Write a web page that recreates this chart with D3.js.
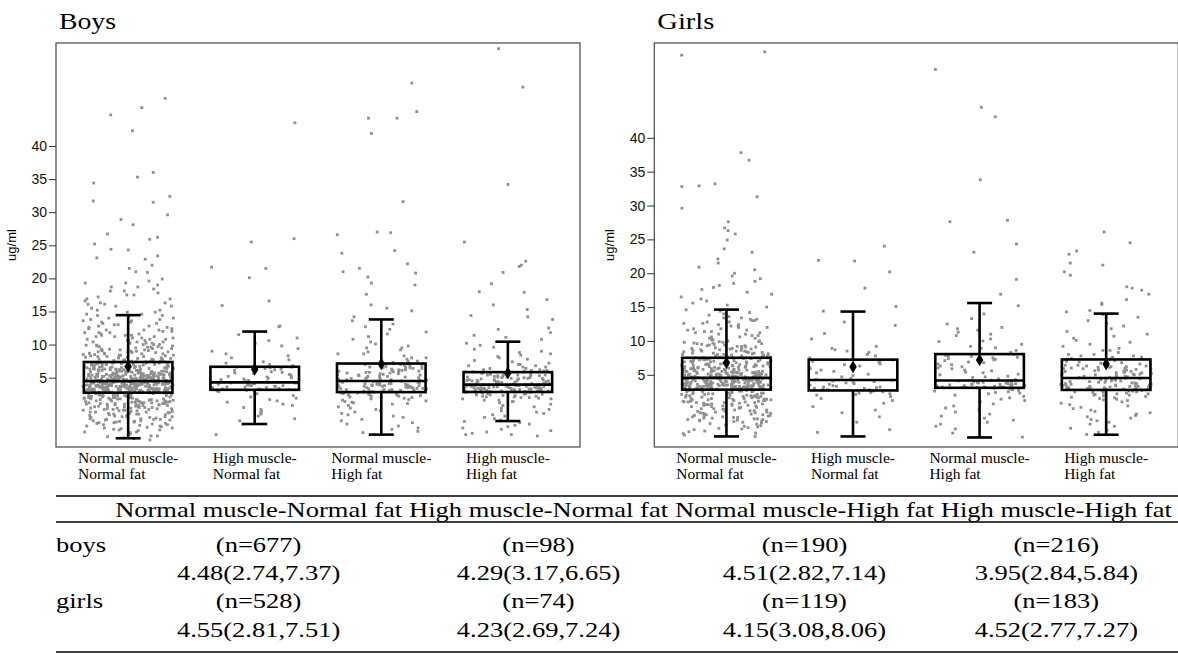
<!DOCTYPE html>
<html>
<head>
<meta charset="utf-8">
<script src="https://cdn.jsdelivr.net/npm/d3@7"></script>
<style>
  body { margin: 0; background: #fff; }
  .serif { font-family: "Liberation Serif", "Times New Roman", Times, serif; }
  .sans { font-family: "Liberation Sans", Arial, Helvetica, sans-serif; }
</style>
</head>
<body>
<svg id="chart" width="1178" height="655"></svg>
<script>
// categories and summary table
var groups = ["Normal muscle-Normal fat", "High muscle-Normal fat", "Normal muscle-High fat", "High muscle-High fat"];
var axisLines = [["Normal muscle-", "Normal fat"], ["High muscle-", "Normal fat"], ["Normal muscle-", "High fat"], ["High muscle-", "High fat"]];
var yTicks = [5, 10, 15, 20, 25, 30, 35, 40];

var boysN = [677, 98, 190, 216];
var boysMedian = [4.48, 4.29, 4.51, 3.95];
var boysQ1 = [2.74, 3.17, 2.82, 2.84];
var boysQ3 = [7.37, 6.65, 7.14, 5.84];
var boysLow = [-4.15, -2.0, -3.6, -1.55];
var boysHigh = [14.45, 11.97, 13.8, 10.44];
var boysMean = [6.68, 6.28, 7.09, 5.72];

var girlsN = [528, 74, 119, 183];
var girlsMedian = [4.55, 4.23, 4.15, 4.52];
var girlsQ1 = [2.81, 2.69, 3.08, 2.77];
var girlsQ3 = [7.51, 7.24, 8.06, 7.27];
var girlsLow = [-4.1, -4.1, -4.25, -3.85];
var girlsHigh = [14.63, 14.34, 15.6, 14.04];
var girlsMean = [6.77, 6.18, 7.2, 6.58];

var boysNMNF = [[-4.4,1],[-4.2,1],[-4.1,1],[-3.9,1],[-3.8,2],[-3.6,1],[-3.5,1],[-3.3,1],[-3.2,2],[-3.0,1],[-2.9,2],[-2.8,1],[-2.7,1],[-2.6,2],[-2.5,1],[-2.4,1],[-2.3,2],[-2.2,1],[-2.1,2],
  [-2.0,1],[-1.9,2],[-1.8,2],[-1.7,2],[-1.6,2],[-1.5,2],[-1.4,2],[-1.3,3],[-1.2,2],[-1.1,2],[-1.0,2],[-0.9,3],[-0.8,2],[-0.7,2],[-0.6,2],[-0.5,3],[-0.4,2],[-0.3,2],[-0.2,3],[-0.1,2],[0.0,2],
  [0.1,3],[0.2,3],[0.3,3],[0.4,3],[0.5,3],[0.6,3],[0.7,3],[0.8,3],[0.9,3],[1.0,4],[1.1,4],[1.2,4],[1.3,4],[1.4,4],[1.5,4],[1.6,4],[1.7,4],[1.8,4],[1.9,4],[2.0,4],[2.1,4],[2.2,4],[2.3,4],[2.4,4],[2.5,4],[2.6,4],[2.7,5],
  [2.8,9],[2.9,9],[3.0,10],[3.1,9],[3.2,10],[3.3,9],[3.4,10],[3.5,9],[3.6,10],[3.7,9],[3.8,10],[3.9,9],[4.0,9],[4.1,10],[4.2,9],[4.3,9],[4.4,10],[4.5,9],
  [4.6,8],[4.7,9],[4.8,8],[4.9,8],[5.0,9],[5.1,8],[5.2,8],[5.3,8],[5.4,8],[5.5,8],[5.6,6],[5.7,5],[5.8,5],[5.9,5],[6.0,6],[6.1,5],[6.2,5],[6.3,5],[6.4,5],[6.5,5],[6.6,4],[6.7,4],[6.8,4],[6.9,4],[7.0,4],[7.1,4],[7.2,4],[7.3,4],[7.4,4],
  [7.5,3],[7.6,3],[7.7,3],[7.8,2],[7.9,3],[8.0,3],[8.1,2],[8.2,3],[8.3,2],[8.4,3],[8.5,2],[8.6,3],[8.7,2],[8.8,2],[8.9,3],[9.0,2],[9.1,2],[9.2,3],[9.3,2],[9.4,2],[9.5,2],[9.6,2],[9.7,2],[9.8,2],[9.9,2],
  [10.0,3],[10.2,3],[10.4,3],[10.6,3],[10.8,3],[11.0,3],[11.2,3],[11.4,3],[11.6,2],[11.8,3],[12.0,2],[12.2,3],[12.4,2],[12.6,2],[12.8,2],[13.0,2],[13.2,2],[13.4,2],[13.6,2],[13.8,2],[14.0,2],[14.2,1],[14.4,2],
  [14.6,2],[14.9,2],[15.2,2],[15.5,1],[15.8,2],[16.1,2],[16.3,2],[16.6,1],[16.9,2],[17.2,1],[17.5,2],[17.8,1],[18.1,2],[18.4,1],[18.7,2],[19.0,1],[19.3,2],[19.6,1],[19.9,1],
  [20.9,1],[21.0,1],[21.5,1],[22.0,1],[22.9,1],[23.1,1],[23.4,1],[24.3,1],[24.4,1],[25.2,1],[25.9,1],[26.2,1],[26.7,1],[28.1,1],[28.9,1],[29.6,1],
  [31.5,1],[31.7,1],[32.4,1],[34.4,1],[35.3,1],[36.0,1],[42.3,1],[44.7,1],[45.8,1],[47.2,1]];
var boysHMNF = [[-3.6,1],[-2.0,1],[-1.5,1],[-1.2,1],[-0.8,1],[-0.5,1],[-0.3,1],[0.0,1],[0.2,1],[0.5,1],[0.8,1],[1.0,1],[1.3,1],[1.5,1],[1.7,1],[1.9,1],[2.1,1],[2.3,1],[2.5,1],[2.6,1],[2.8,1],[2.9,1],[3.0,1],[3.1,1],
  [3.2,2],[3.3,2],[3.4,2],[3.5,2],[3.6,2],[3.7,2],[3.8,2],[3.9,2],[4.0,2],[4.1,2],[4.2,3],[4.3,2],
  [4.4,1],[4.5,1],[4.6,1],[4.7,1],[4.8,1],[4.9,1],[5.0,1],[5.1,1],[5.2,1],[5.3,1],[5.4,1],[5.5,1],[5.6,1],[5.7,1],[5.8,1],[5.9,1],[6.0,1],[6.1,1],[6.2,1],[6.3,1],[6.4,1],[6.5,2],[6.6,2],
  [6.8,1],[7.0,1],[7.2,1],[7.4,1],[7.7,1],[8.0,1],[8.3,1],[8.6,1],[9.0,1],[9.4,1],[9.8,1],[10.2,1],[10.6,1],[11.0,1],[11.5,1],[12.7,1],[12.8,1],[15.9,1],[16.6,1],[20.1,1],[21.5,1],[21.7,1],[25.5,1],[26.0,1],[43.5,1]];
var boysNMHF = [[-3.6,1],[-3.3,1],[-3.1,1],[-2.8,1],[-2.6,1],[-2.3,1],[-2.0,1],[-1.8,1],[-1.5,1],[-1.3,1],[-1.0,1],[-0.8,1],[-0.6,1],[-0.4,1],[-0.2,1],[0.0,1],[0.2,1],[0.4,1],[0.6,1],[0.8,1],
  [1.0,1],[1.1,1],[1.2,1],[1.3,1],[1.4,1],[1.5,1],[1.6,1],[1.7,1],[1.8,1],[1.9,1],[2.0,2],[2.1,1],[2.2,2],[2.3,1],[2.4,2],[2.5,2],[2.6,2],[2.7,2],[2.8,2],
  [2.9,3],[3.0,3],[3.1,3],[3.2,3],[3.3,3],[3.4,3],[3.5,3],[3.6,3],[3.7,3],[3.8,3],[3.9,3],[4.0,3],[4.1,3],[4.2,3],[4.3,2],[4.4,2],[4.5,2],
  [4.6,2],[4.7,2],[4.8,2],[4.9,2],[5.0,2],[5.1,2],[5.2,2],[5.3,2],[5.4,2],[5.5,2],[5.6,2],[5.7,2],[5.8,2],[5.9,2],[6.0,2],[6.1,2],[6.2,2],[6.3,2],[6.4,2],[6.5,2],[6.6,2],[6.7,1],[6.8,2],[6.9,1],[7.0,2],[7.1,2],
  [7.3,1],[7.5,2],[7.8,1],[8.0,2],[8.3,1],[8.6,2],[8.9,1],[9.2,1],[9.5,2],[9.8,1],[10.1,1],[10.4,1],[10.8,1],[11.2,1],[11.6,1],[11.9,1],[12.3,1],[12.7,1],[13.1,1],[13.6,1],
  [14.2,1],[15.1,1],[15.5,1],[16.0,1],[17.6,1],[19.0,1],[19.3,1],[20.2,1],[20.8,1],[21.0,1],[21.5,1],[22.2,1],[23.8,1],[24.2,1],[26.6,1],[26.9,1],[27.0,1],[31.6,1],[41.9,1],[44.2,2],[45.2,1],[49.5,1]];
var boysHMHF = [[-3.8,1],[-3.6,2],[-3.4,1],[-3.2,1],[-3.0,1],[-2.8,1],[-2.6,1],[-2.4,1],[-2.2,1],[-2.0,1],[-1.8,1],[-1.6,1],[-1.4,1],[-1.2,1],[-1.0,1],[-0.8,1],[-0.6,1],[-0.4,1],[-0.2,1],[0.0,1],[0.2,1],[0.4,1],[0.6,1],[0.8,1],[1.0,1],[1.2,1],
  [1.4,2],[1.6,2],[1.8,2],[1.9,1],[2.0,2],[2.1,2],[2.2,2],[2.3,2],[2.4,2],[2.5,2],[2.6,2],[2.7,2],[2.8,2],
  [2.9,5],[3.0,5],[3.1,5],[3.2,5],[3.3,5],[3.4,5],[3.5,5],[3.6,5],[3.7,5],[3.8,5],[3.9,4],
  [4.0,3],[4.1,3],[4.2,3],[4.3,3],[4.4,3],[4.5,3],[4.6,3],[4.7,3],[4.8,3],[4.9,3],[5.0,3],[5.1,3],[5.2,3],[5.3,3],[5.4,3],[5.5,3],[5.6,2],[5.7,2],[5.8,2],
  [5.9,2],[6.0,2],[6.1,2],[6.2,2],[6.4,2],[6.6,2],[6.8,2],[7.0,2],[7.2,1],[7.4,1],[7.6,1],[7.8,1],[8.0,1],[8.2,1],[8.4,1],[8.6,1],[8.8,1],[9.0,1],[9.3,1],[9.6,1],[9.9,1],[10.2,1],
  [10.8,1],[11.1,1],[11.4,1],[11.8,1],[12.3,1],[12.5,1],[13.8,1],[14.2,1],[14.4,1],[15.3,1],[16.0,1],[16.8,1],[17.9,1],[18.0,1],[19.2,1],[20.9,1],[21.8,1],[22.0,1],[22.6,1],[25.5,1],[34.2,1],[48.9,1],[54.7,1]];

var girlsNMNF = [[-4.1,1],[-3.9,1],[-3.7,1],[-3.6,1],[-3.4,1],[-3.3,1],[-3.1,1],[-3.0,1],[-2.9,1],[-2.8,1],[-2.7,1],[-2.6,1],[-2.5,1],[-2.4,1],[-2.3,1],[-2.2,1],[-2.1,1],[-2.0,1],
  [-1.9,2],[-1.8,2],[-1.7,2],[-1.6,2],[-1.5,2],[-1.4,2],[-1.3,2],[-1.2,2],[-1.1,2],[-1.0,2],[-0.9,2],[-0.8,2],[-0.7,2],[-0.6,2],[-0.5,2],[-0.4,2],[-0.3,2],[-0.2,2],[-0.1,2],[0.0,2],
  [0.1,2],[0.2,2],[0.3,2],[0.4,2],[0.5,3],[0.6,2],[0.7,3],[0.8,2],[0.9,3],[1.0,3],[1.1,3],[1.2,3],[1.3,3],[1.4,3],[1.5,3],[1.6,3],[1.7,3],[1.8,3],[1.9,3],[2.0,3],[2.1,3],[2.2,3],[2.3,3],[2.4,3],[2.5,3],[2.6,3],[2.7,3],[2.8,3],
  [2.9,8],[3.0,8],[3.1,8],[3.2,8],[3.3,8],[3.4,8],[3.5,8],[3.6,8],[3.7,8],[3.8,8],[3.9,8],[4.0,8],[4.1,8],[4.2,8],[4.3,8],[4.4,7],[4.5,7],
  [4.6,6],[4.7,6],[4.8,6],[4.9,6],[5.0,6],[5.1,6],[5.2,6],[5.3,6],[5.4,6],[5.5,6],[5.6,4],[5.7,4],[5.8,4],[5.9,4],[6.0,4],[6.1,4],[6.2,4],[6.3,4],[6.4,4],[6.5,4],[6.6,3],[6.7,3],[6.8,3],[6.9,3],[7.0,3],[7.1,3],[7.2,3],[7.3,3],[7.4,3],[7.5,3],
  [7.6,3],[7.7,2],[7.8,3],[7.9,2],[8.0,3],[8.1,2],[8.2,3],[8.3,2],[8.4,2],[8.5,3],[8.6,2],[8.7,2],[8.8,2],[8.9,2],[9.0,2],[9.1,2],[9.2,2],[9.3,2],[9.4,2],[9.5,2],[9.6,2],[9.7,2],[9.8,2],[9.9,2],[10.0,2],
  [10.2,2],[10.4,2],[10.6,2],[10.8,2],[11.0,2],[11.2,2],[11.4,2],[11.6,2],[11.8,2],[12.0,2],[12.2,2],[12.4,2],[12.6,2],[12.8,2],[13.0,2],[13.2,2],[13.4,2],[13.6,1],[13.8,1],[14.0,1],[14.2,1],[14.4,1],[14.6,1],
  [15.0,1],[15.3,1],[15.6,1],[15.9,1],[16.2,1],[16.5,1],[16.9,1],[17.2,1],[17.6,1],[17.9,1],[18.2,1],[18.5,1],[18.8,1],[19.2,1],[19.6,1],[20.0,1],[20.5,1],[20.9,1],[21.5,1],[22.1,1],[23.1,1],[23.6,1],[24.9,1],[25.8,1],[26.3,1],[26.7,1],[27.6,1],[29.6,1],
  [31.3,1],[32.8,1],[32.9,1],[33.2,1],[36.7,1],[37.8,1],[52.2,1],[52.7,1]];
var girlsHMNF = [[-3.5,1],[-3.1,1],[-2.0,1],[-1.2,1],[-0.6,1],[-0.2,1],[0.3,1],[0.8,1],[1.2,1],[1.5,1],[1.8,1],[2.0,1],[2.1,1],[2.2,1],[2.3,1],[2.4,1],[2.5,1],[2.6,1],
  [2.7,1],[2.8,2],[2.9,1],[3.0,2],[3.1,1],[3.2,2],[3.3,1],[3.4,1],[3.5,1],[3.6,1],[3.7,1],[3.8,1],[3.9,1],[4.0,1],[4.1,1],[4.2,1],
  [4.3,1],[4.5,1],[4.7,1],[4.9,1],[5.1,1],[5.3,1],[5.5,1],[5.7,1],[5.9,1],[6.1,1],[6.3,1],[6.5,1],[6.6,1],[6.8,1],[6.9,1],[7.0,1],[7.1,1],[7.2,1],
  [7.5,1],[7.8,1],[8.0,1],[8.3,1],[8.5,1],[8.7,1],[8.9,1],[9.2,1],[10.3,1],[11.1,1],[12.3,1],[12.8,1],[14.4,1],[15.1,1],[17.8,1],[20.2,1],[21.8,1],[21.9,1],[24.0,1]];
var girlsNMHF = [[-4.2,1],[-3.6,1],[-3.0,1],[-2.6,1],[-2.3,1],[-2.0,1],[-1.7,1],[-1.4,1],[-1.1,1],[-0.8,1],[-0.5,1],[-0.2,1],[0.1,1],[0.4,1],[0.7,1],[1.0,1],[1.2,1],[1.4,1],[1.6,1],[1.8,1],[2.0,1],[2.2,1],[2.3,1],[2.4,1],[2.5,1],[2.6,1],[2.7,1],[2.8,1],[2.9,1],[3.0,1],
  [3.1,3],[3.2,3],[3.3,3],[3.4,3],[3.5,3],[3.6,3],[3.7,3],[3.8,3],[3.9,2],[4.0,2],[4.1,2],
  [4.2,1],[4.3,1],[4.4,1],[4.6,1],[4.7,1],[4.8,1],[5.0,1],[5.1,1],[5.3,1],[5.4,1],[5.6,1],[5.7,1],[5.9,1],[6.0,1],[6.2,1],[6.3,1],[6.5,1],[6.6,1],[6.8,1],[6.9,1],[7.1,1],[7.2,1],[7.3,1],[7.4,1],[7.5,1],[7.6,1],[7.7,1],[7.8,1],[7.9,1],[8.0,1],
  [8.3,1],[8.6,1],[8.9,1],[9.0,1],[9.2,1],[9.5,1],[9.9,1],[10.0,1],[10.3,1],[10.8,1],[11.0,1],[11.3,1],[11.6,1],[11.8,1],[12.0,1],[12.5,1],[13.3,1],[14.0,1],[15.2,1],[16.9,1],[19.1,1],[23.1,1],[24.3,1],[27.6,1],[27.8,1],[33.8,1],[43.1,1],[44.5,1],[50.1,1]];
var girlsHMHF = [[-3.8,1],[-3.5,1],[-3.2,1],[-2.9,1],[-2.6,1],[-2.3,1],[-2.0,1],[-1.8,1],[-1.6,1],[-1.4,1],[-1.2,1],[-1.0,1],[-0.8,1],[-0.6,1],[-0.4,1],[-0.2,1],[0.0,1],[0.2,1],[0.4,1],[0.6,1],[0.8,1],[1.0,1],[1.2,1],[1.3,1],[1.4,1],[1.5,1],[1.6,1],[1.7,1],[1.8,1],[1.9,1],
  [2.0,2],[2.1,1],[2.2,2],[2.3,1],[2.4,2],[2.5,2],[2.6,2],[2.7,2],
  [2.8,3],[2.9,3],[3.0,3],[3.1,3],[3.2,3],[3.3,3],[3.4,3],[3.5,3],[3.6,3],[3.7,2],[3.8,2],[3.9,2],[4.0,2],[4.1,2],[4.2,2],[4.3,2],[4.4,2],[4.5,2],
  [4.6,2],[4.7,2],[4.8,2],[4.9,2],[5.0,2],[5.1,2],[5.2,2],[5.3,2],[5.4,2],[5.5,2],[5.6,2],[5.7,2],[5.8,2],[5.9,2],[6.0,2],[6.1,2],[6.2,2],[6.3,2],[6.4,2],[6.5,1],[6.6,1],[6.7,1],[6.8,1],[6.9,1],[7.0,1],[7.1,1],[7.2,1],
  [7.4,2],[7.6,2],[7.8,2],[8.0,2],[8.3,1],[8.6,2],[8.9,1],[9.2,1],[9.5,1],[9.8,1],[10.1,1],[10.4,1],[10.7,1],[11.0,1],[11.4,1],[11.8,1],[12.2,1],[12.6,1],[13.0,1],[13.5,1],[13.9,1],
  [14.3,1],[14.5,1],[15.4,1],[15.6,1],[16.1,1],[16.9,1],[17.5,1],[17.8,1],[18.0,1],[19.7,1],[20.2,1],[21.2,1],[21.5,1],[22.8,1],[23.3,1],[24.5,1],[26.1,1]];

var svg = d3.select("#chart");

// horizontal jitter offset in [-1, 1], a fixed hash of the point index
function jitter(k, i) {
  var s = Math.sin((k + 1) * 12.9898 + (i + 1) * 78.233) * 43758.5453;
  return (s - Math.floor(s)) * 2 - 1;
}

function drawPanel(p) {
  var g = svg.append("g");
  var x = d3.scalePoint().domain(groups).range([p.left, p.right]).padding(0.57);
  var y = d3.scaleLinear().domain(p.yDomain).range([p.bottom, p.top]);
  var boxW = x.step() * 0.70;
  var jw = boxW / 2 + 1;
  var capW = 25;

  // jittered observations
  groups.forEach(function(cat, i) {
    var pts = [];
    p.points[i].forEach(function(d) { for (var k = 0; k < d[1]; k++) pts.push(d[0]); });
    g.append("g").selectAll("rect")
      .data(pts)
      .join("rect")
      .attr("x", function(v, k) { return x(cat) + jitter(k, i + p.seed) * jw - 1.4; })
      .attr("y", function(v) { return y(v) - 1.4; })
      .attr("width", 2.8)
      .attr("height", 2.8)
      .attr("fill", "#8f8f8f");
  });

  // boxes and whiskers
  var b = g.selectAll(".box").data(groups).join("g").attr("class", "box");
  b.append("line")
    .attr("x1", function(d) { return x(d); }).attr("x2", function(d) { return x(d); })
    .attr("y1", function(d, i) { return y(p.q3[i]); }).attr("y2", function(d, i) { return y(p.high[i]); });
  b.append("line")
    .attr("x1", function(d) { return x(d); }).attr("x2", function(d) { return x(d); })
    .attr("y1", function(d, i) { return y(p.q1[i]); }).attr("y2", function(d, i) { return y(p.low[i]); });
  b.append("line")
    .attr("x1", function(d) { return x(d) - capW / 2; }).attr("x2", function(d) { return x(d) + capW / 2; })
    .attr("y1", function(d, i) { return y(p.high[i]); }).attr("y2", function(d, i) { return y(p.high[i]); });
  b.append("line")
    .attr("x1", function(d) { return x(d) - capW / 2; }).attr("x2", function(d) { return x(d) + capW / 2; })
    .attr("y1", function(d, i) { return y(p.low[i]); }).attr("y2", function(d, i) { return y(p.low[i]); });
  b.append("rect")
    .attr("x", function(d) { return x(d) - boxW / 2; })
    .attr("y", function(d, i) { return y(p.q3[i]); })
    .attr("width", boxW)
    .attr("height", function(d, i) { return y(p.q1[i]) - y(p.q3[i]); })
    .attr("fill", "none");
  b.append("line")
    .attr("x1", function(d) { return x(d) - boxW / 2; }).attr("x2", function(d) { return x(d) + boxW / 2; })
    .attr("y1", function(d, i) { return y(p.median[i]); }).attr("y2", function(d, i) { return y(p.median[i]); });
  b.selectAll("line, rect").attr("stroke", "#000").attr("stroke-width", 2.6);
  b.append("path")
    .attr("d", d3.symbol().type(d3.symbolDiamond).size(48))
    .attr("transform", function(d, i) { return "translate(" + x(d) + "," + y(p.mean[i]) + ")"; })
    .attr("fill", "#000");

  // frame
  g.append("rect")
    .attr("x", p.left).attr("y", p.top)
    .attr("width", p.right - p.left).attr("height", p.bottom - p.top)
    .attr("fill", "none").attr("stroke", "#555").attr("stroke-width", 1.3);

  // y axis
  var ax = g.append("g")
    .attr("transform", "translate(" + p.left + ",0)")
    .call(d3.axisLeft(y).tickValues(yTicks).tickSize(7).tickPadding(2));
  ax.select(".domain").remove();
  ax.attr("font-family", null).attr("font-size", null);
  ax.selectAll(".tick line").attr("stroke", "#333");
  ax.selectAll(".tick text").attr("class", "sans").style("font-size", "14px").attr("fill", "#111");

  g.append("text")
    .attr("class", "sans")
    .attr("transform", "translate(" + (p.left - 40) + "," + ((p.top + p.bottom) / 2) + ") rotate(-90)")
    .attr("text-anchor", "middle")
    .style("font-size", "13px")
    .text("ug/ml");

  // category labels, two left-aligned lines centred on the band
  groups.forEach(function(cat, i) {
    var t = g.append("text").attr("class", "serif").style("font-size", "15.5px");
    axisLines[i].forEach(function(line, j) {
      t.append("tspan").attr("y", p.bottom + 16 + j * 16).text(line);
    });
    var w = d3.max(t.selectAll("tspan").nodes(), function(n) { return n.getComputedTextLength(); });
    t.selectAll("tspan").attr("x", x(cat) - w / 2);
  });

  g.append("text")
    .attr("class", "serif")
    .attr("x", p.left + 3).attr("y", 29)
    .attr("textLength", 57).attr("lengthAdjust", "spacingAndGlyphs")
    .style("font-size", "24px")
    .text(p.title);
}

drawPanel({ title: "Boys", seed: 0, left: 56, right: 580, top: 43, bottom: 447, yDomain: [-5.47, 55.56],
  points: [boysNMNF, boysHMNF, boysNMHF, boysHMHF],
  q1: boysQ1, q3: boysQ3, median: boysMedian, low: boysLow, high: boysHigh, mean: boysMean });
drawPanel({ title: "Girls", seed: 5, left: 654.3, right: 1178.3, top: 43, bottom: 447, yDomain: [-5.66, 54.0],
  points: [girlsNMNF, girlsHMNF, girlsNMHF, girlsHMHF],
  q1: girlsQ1, q3: girlsQ3, median: girlsMedian, low: girlsLow, high: girlsHigh, mean: girlsMean });

// summary table below the panels
var tbl = svg.append("g");
var fs = 20, tLeft = 56, tRight = 1178, headStart = 115, headEnd = 1172;
var ruleY = [496, 522, 652];
var headY = 517, rowY = [552, 580, 608, 637];

var heads = tbl.selectAll(".head").data(groups).join("text")
  .attr("class", "head serif")
  .style("font-size", fs + "px")
  .attr("text-anchor", "middle")
  .text(function(d) { return d; });
var widths = heads.nodes().map(function(n) { return n.getComputedTextLength(); });
var gap = fs * 0.25;
var sx = (headEnd - headStart) / (d3.sum(widths) + gap * 3);
var colX = [], acc = headStart;
widths.forEach(function(w) { colX.push(acc + w * sx / 2); acc += (w + gap) * sx; });
heads.attr("transform", function(d, i) { return "translate(" + colX[i] + "," + headY + ") scale(" + sx + ",1)"; });

function cell(txt, cx, cy, anchor) {
  tbl.append("text")
    .attr("class", "serif")
    .attr("transform", "translate(" + cx + "," + cy + ") scale(" + sx + ",1)")
    .attr("text-anchor", anchor)
    .style("font-size", fs + "px")
    .text(txt);
}
var rows = [["boys", boysN, boysMedian, boysQ1, boysQ3], ["girls", girlsN, girlsMedian, girlsQ1, girlsQ3]];
rows.forEach(function(r, ri) {
  cell(r[0], tLeft, rowY[ri * 2], "start");
  groups.forEach(function(cat, i) {
    cell("(n=" + r[1][i] + ")", colX[i], rowY[ri * 2], "middle");
    cell(r[2][i].toFixed(2) + "(" + r[3][i].toFixed(2) + "," + r[4][i].toFixed(2) + ")", colX[i], rowY[ri * 2 + 1], "middle");
  });
});
tbl.selectAll(".rule").data(ruleY).join("line")
  .attr("class", "rule")
  .attr("x1", tLeft).attr("x2", tRight)
  .attr("y1", function(d) { return d; }).attr("y2", function(d) { return d; })
  .attr("stroke", "#000").attr("stroke-width", 1.6);
</script>
</body>
</html>
